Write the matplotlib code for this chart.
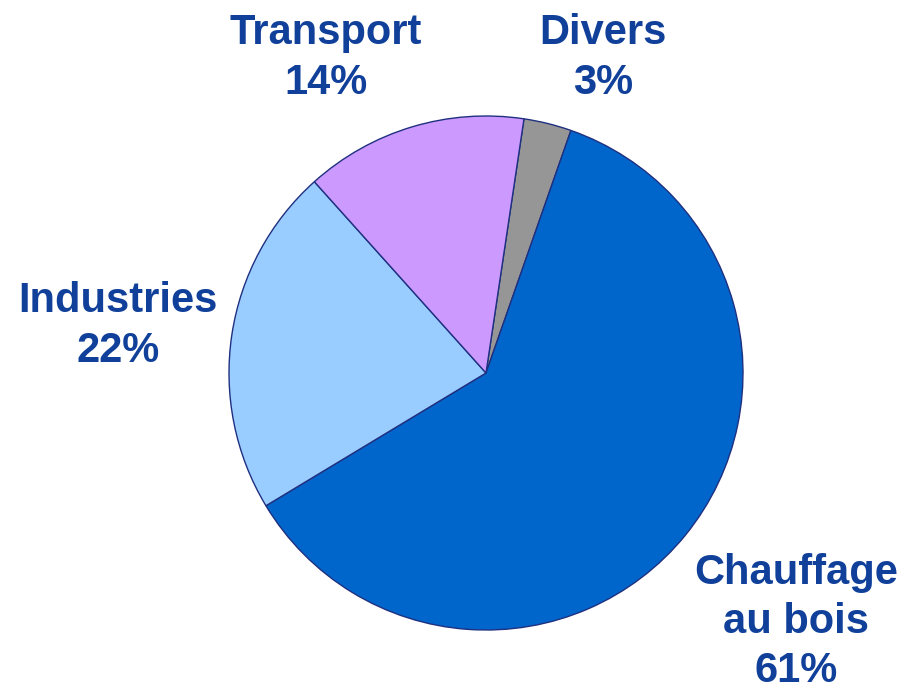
import matplotlib.pyplot as plt

# données
labels = ["Divers\n3%", "Chauffage\nau bois\n61%", "Industries\n22%", "Transport\n14%"]
values = [3, 61, 22, 14]
colors = ["#969696", "#0066CC", "#99CCFF", "#CC99FF"]

plt.rcParams['font.family'] = ['Liberation Sans', 'DejaVu Sans']

W, H = 905, 693
fig = plt.figure(figsize=(W / 100, H / 100), dpi=100)
ax = fig.add_axes([0, 0, 1, 1])
ax.set_xlim(0, W)
ax.set_ylim(0, H)
ax.set_aspect('equal')
ax.axis('off')

ax.pie(values, colors=colors, startangle=81.5, counterclock=False,
       center=(486, H - 373), radius=257,
       wedgeprops=dict(edgecolor="#1F3080", linewidth=1.0))

# positions des étiquettes (pixels)
label_pos = [(603, 58), (796, 622), (118, 326), (326, 58)]
for txt, (x, y) in zip(labels, label_pos):
    ax.text(x, H - y, txt, ha='center', va='center', fontsize=30,
            fontweight='bold', color="#10409A", linespacing=1.3)

ax.set_xlim(0, W)
ax.set_ylim(0, H)
fig.savefig("out.png", dpi=100)
